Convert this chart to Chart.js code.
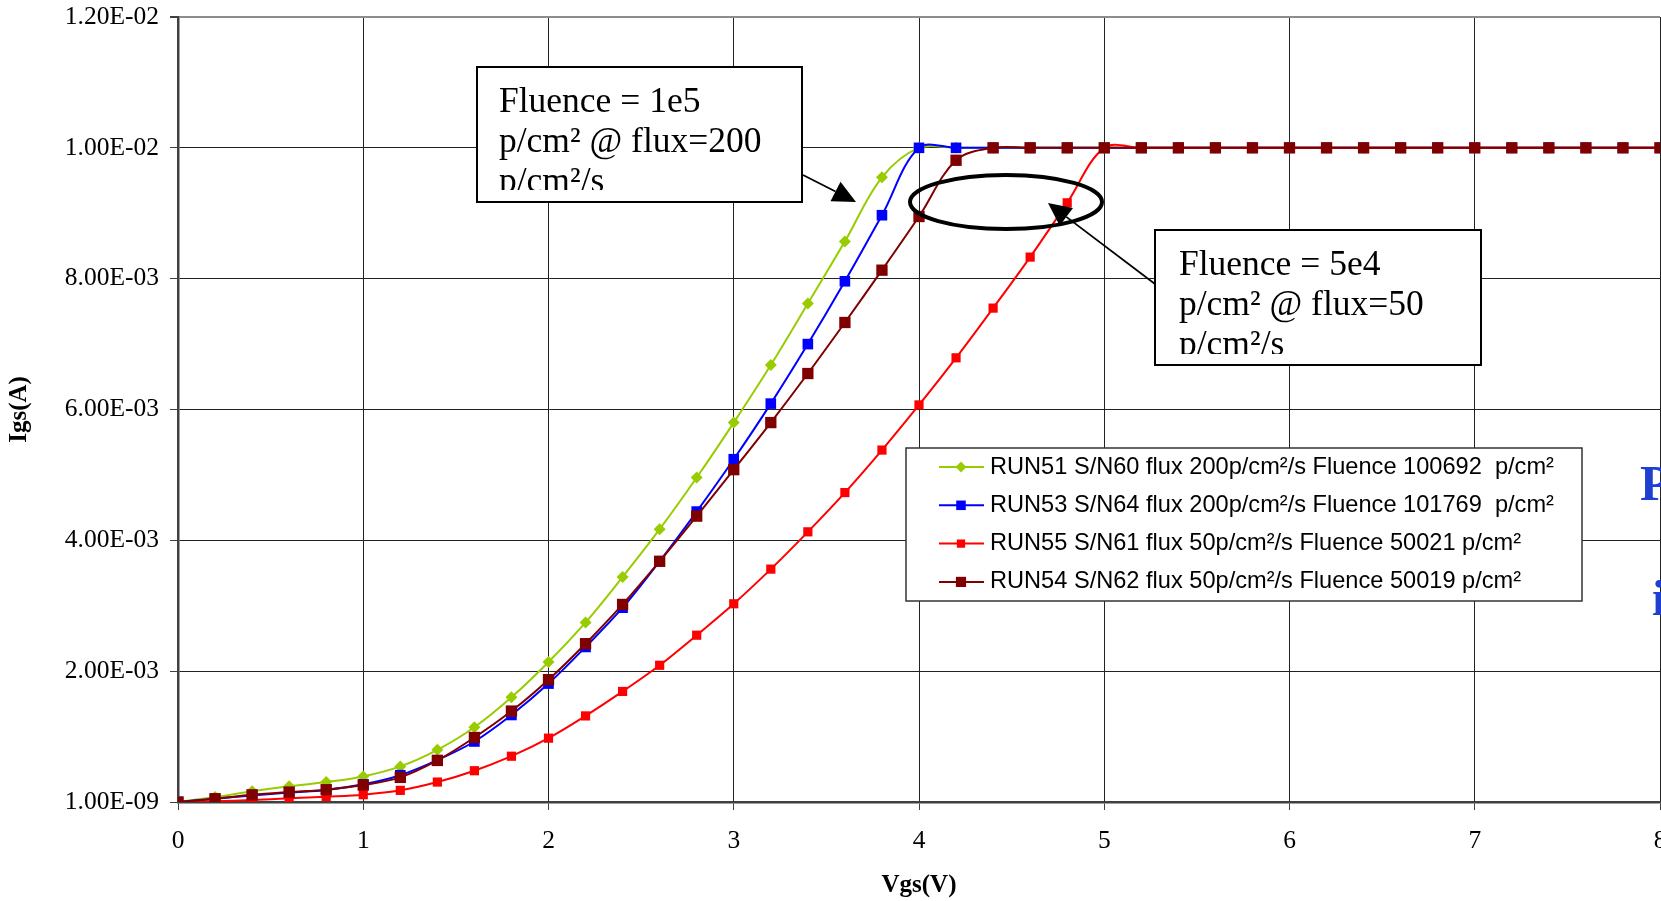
<!DOCTYPE html>
<html>
<head>
<meta charset="utf-8">
<script src="https://cdn.jsdelivr.net/npm/chart.js@4/dist/chart.umd.min.js"></script>
<style>
  html, body { margin: 0; padding: 0; background: #fff; overflow: hidden; }
  #wrap { width: 1661px; height: 901px; overflow: hidden; position: relative; }
  canvas { display: block; }
</style>
</head>
<body>
<div id="wrap"><canvas id="chart" width="1761" height="901" style="width:1761px;height:901px"></canvas></div>
<script>
'use strict';
// Vgs (V)
const vgs = [0, 0.2, 0.4, 0.6, 0.8, 1, 1.2, 1.4, 1.6, 1.8, 2, 2.2, 2.4, 2.6, 2.8, 3, 3.2, 3.4, 3.6, 3.8,
  4, 4.2, 4.4, 4.6, 4.8, 5, 5.2, 5.4, 5.6, 5.8, 6, 6.2, 6.4, 6.6, 6.8, 7, 7.2, 7.4, 7.6, 7.8, 8];

// Igs in mA
const run51 = [0.000001, 0.076, 0.163, 0.239, 0.305, 0.391, 0.544, 0.798, 1.143, 1.60, 2.14, 2.745, 3.44, 4.17, 4.96, 5.80, 6.68, 7.62, 8.57, 9.55,
  10, 10, 10, 10, 10, 10, 10, 10, 10, 10, 10, 10, 10, 10, 10, 10, 10, 10, 10, 10, 10];
const run53 = [0.000001, 0.05, 0.10, 0.145, 0.185, 0.27, 0.41, 0.64, 0.925, 1.33, 1.81, 2.37, 2.97, 3.68, 4.44, 5.24, 6.09, 7.00, 7.96, 8.97,
  10, 10, 10, 10, 10, 10, 10, 10, 10, 10, 10, 10, 10, 10, 10, 10, 10, 10, 10, 10, 10];
const run55 = [0.000001, 0.01, 0.03, 0.056, 0.081, 0.112, 0.178, 0.305, 0.478, 0.70, 0.976, 1.316, 1.69, 2.09, 2.55, 3.03, 3.56, 4.13, 4.73, 5.38,
  6.07, 6.79, 7.55, 8.33, 9.16, 10, 10, 10, 10, 10, 10, 10, 10, 10, 10, 10, 10, 10, 10, 10, 10];
const run54 = [0.000001, 0.05, 0.11, 0.152, 0.188, 0.259, 0.376, 0.635, 0.986, 1.39, 1.87, 2.42, 3.02, 3.68, 4.37, 5.08, 5.80, 6.55, 7.33, 8.13,
  8.95, 9.81, 10, 10, 10, 10, 10, 10, 10, 10, 10, 10, 10, 10, 10, 10, 10, 10, 10, 10, 10];

const seriesNames = [
  'RUN51 S/N60 flux 200p/cm²/s Fluence 100692  p/cm²',
  'RUN53 S/N64 flux 200p/cm²/s Fluence 101769  p/cm²',
  'RUN55 S/N61 flux 50p/cm²/s Fluence 50021 p/cm²',
  'RUN54 S/N62 flux 50p/cm²/s Fluence 50019 p/cm²'
];
const yTicks = [1e-9, 0.002, 0.004, 0.006, 0.008, 0.010, 0.012];
const yTickLabels = ['1.00E-09', '2.00E-03', '4.00E-03', '6.00E-03', '8.00E-03', '1.00E-02', '1.20E-02'];
const xTickLabels = ['0', '1', '2', '3', '4', '5', '6', '7', '8'];

const toPoints = mA => mA.map((v, i) => ({ x: vgs[i], y: v / 1000 }));

const serif = '"Liberation Serif", "Times New Roman", serif';
const sans = '"Liberation Sans", Arial, sans-serif';

function series(label, data, color, style, radius, order) {
  return {
    label, data: toPoints(data), borderColor: color, backgroundColor: color,
    pointBackgroundColor: color, pointBorderColor: color, pointStyle: style,
    pointRadius: radius, pointBorderWidth: 0, borderWidth: 2, tension: 0.35, order
  };
}

function drawArrow(ctx, x1, y1, x2, y2) {
  const a = Math.atan2(y2 - y1, x2 - x1), len = 23, half = 11;
  const bx = x2 - len * Math.cos(a), by = y2 - len * Math.sin(a);
  ctx.beginPath(); ctx.moveTo(x1, y1); ctx.lineTo(bx, by); ctx.stroke();
  ctx.beginPath(); ctx.moveTo(x2, y2);
  ctx.lineTo(bx + half * Math.sin(a), by - half * Math.cos(a));
  ctx.lineTo(bx - half * Math.sin(a), by + half * Math.cos(a));
  ctx.closePath(); ctx.fill();
}

const notes = [
  { x: 477, y: 67, w: 325, h: 135, tx: 499, base: 112, clip: 190,
    lines: ['Fluence = 1e5', 'p/cm² @ flux=200', 'p/cm²/s'], arrow: [803, 175, 856, 202] },
  { x: 1155, y: 230, w: 326, h: 135, tx: 1179, base: 275, clip: 354,
    lines: ['Fluence = 5e4', 'p/cm² @ flux=50', 'p/cm²/s'], arrow: [1155, 284, 1048, 203] }
];

const overlay = {
  id: 'overlay',
  afterDraw(chart) {
    const ctx = chart.ctx;
    ctx.save();
    // legend box
    const lx = 906, ly = 448, lw = 676, lh = 153;
    ctx.fillStyle = '#fff'; ctx.fillRect(lx, ly, lw, lh);
    ctx.strokeStyle = '#333'; ctx.lineWidth = 1.5; ctx.strokeRect(lx, ly, lw, lh);
    ctx.font = '23.6px ' + sans; ctx.textBaseline = 'middle'; ctx.textAlign = 'left';
    chart.data.datasets.forEach((ds, i) => {
      const y = 467 + i * 38.3;
      ctx.strokeStyle = ds.borderColor; ctx.lineWidth = 2;
      ctx.beginPath(); ctx.moveTo(939, y); ctx.lineTo(984, y); ctx.stroke();
      ctx.fillStyle = ds.borderColor;
      Chart.helpers.drawPoint(ctx, { pointStyle: ds.pointStyle, radius: ds.pointRadius * 0.9, rotation: 0, borderWidth: 0 }, 961, y);
      ctx.fillStyle = '#000';
      ctx.fillText(ds.label, 990, y);
    });

    // ellipse round the knees
    ctx.strokeStyle = '#000'; ctx.lineWidth = 4;
    ctx.beginPath(); ctx.ellipse(1006, 202, 96, 27, 0, 0, Math.PI * 2); ctx.stroke();

    // text boxes with arrows
    notes.forEach(n => {
      ctx.fillStyle = '#fff'; ctx.fillRect(n.x, n.y, n.w, n.h);
      ctx.strokeStyle = '#000'; ctx.lineWidth = 2; ctx.strokeRect(n.x, n.y, n.w, n.h);
      ctx.save();
      ctx.beginPath(); ctx.rect(n.x, n.y, n.w, n.clip - n.y); ctx.clip();
      ctx.fillStyle = '#000'; ctx.font = '35.5px ' + serif; ctx.textBaseline = 'alphabetic';
      n.lines.forEach((t, i) => ctx.fillText(t, n.tx, n.base + i * 40));
      ctx.restore();
      ctx.lineWidth = 1.8; ctx.fillStyle = '#000';
      drawArrow(ctx, ...n.arrow);
    });

    // cut-off slide text at right edge
    ctx.fillStyle = '#1f3fd0'; ctx.font = 'bold 50px ' + serif; ctx.textBaseline = 'alphabetic';
    ctx.fillText('P', 1640, 500);
    ctx.fillText('i', 1652, 615);
    ctx.restore();
  }
};

new Chart(document.getElementById('chart'), {
  type: 'line',
  data: {
    datasets: [
      series(seriesNames[0], run51, '#99cc00', 'rectRot', 6, 3),
      series(seriesNames[1], run53, '#0000ff', 'rect', 7.5, 2),
      series(seriesNames[2], run55, '#ff0000', 'rect', 6.5, 1),
      series(seriesNames[3], run54, '#800000', 'rect', 8, 0)
    ]
  },
  options: {
    responsive: false,
    animation: false,
    layout: { padding: { top: 17, right: 101, bottom: 0, left: 0 } },
    plugins: { legend: { display: false }, tooltip: { enabled: false } },
    scales: {
      x: {
        type: 'linear', min: 0, max: 8,
        afterFit(scale) { scale.height = 99; },
        ticks: { stepSize: 1, color: '#000', padding: 16, maxRotation: 0,
          font: { family: serif, size: 25.5 }, callback: (v, i) => xTickLabels[i] },
        grid: { color: '#222', lineWidth: 1, tickLength: 8, tickColor: '#404040' },
        border: { color: '#404040', width: 2.5 },
        title: { display: true, text: 'Vgs(V)', color: '#000', padding: { bottom: 0, top: 0 },
          font: { family: serif, size: 25, weight: 'bold' } }
      },
      y: {
        min: 1e-9, max: 0.012,
        afterFit(scale) { scale.width = 178; scale.paddingTop = 0; scale.paddingBottom = 0; },
        afterBuildTicks(scale) { scale.ticks = yTicks.map(v => ({ value: v })); },
        ticks: { color: '#000', padding: 11, font: { family: serif, size: 25.5 },
          callback: (v, i) => yTickLabels[i] },
        grid: {
          color: c => (c.tick && c.tick.value === 0.012 ? '#8c8c8c' : '#222'),
          lineWidth: c => (c.tick && c.tick.value === 0.012 ? 2 : 1),
          tickLength: 8, tickColor: '#404040'
        },
        border: { color: '#404040', width: 2.5 },
        title: { display: true, text: 'Igs(A)', color: '#000', padding: { top: 5, bottom: 0 },
          font: { family: serif, size: 25, weight: 'bold' } }
      }
    }
  },
  plugins: [overlay]
});
</script>
</body>
</html>
